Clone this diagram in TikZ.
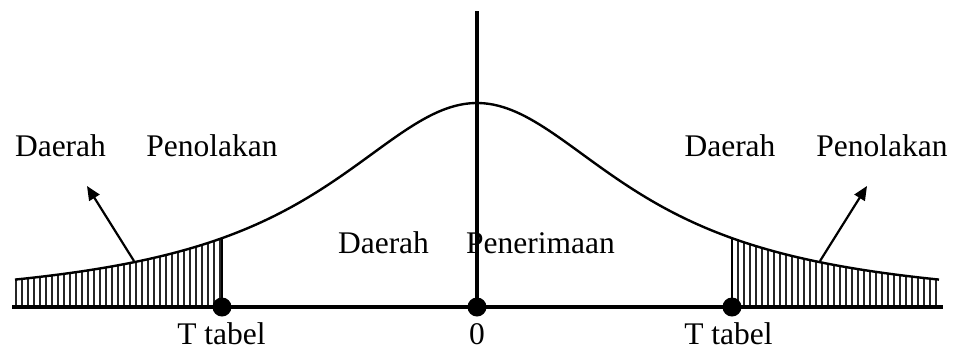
\documentclass[tikz,border=0pt]{standalone}
\usepackage{fontspec}
\setmainfont{Liberation Serif}
\usetikzlibrary{arrows.meta}
\begin{document}
\begin{tikzpicture}[x=1pt,y=-1pt,
  lbl/.style={anchor=base,inner sep=0pt,font=\fontsize{31.5}{36}\selectfont},
  axisline/.style={line width=3.6pt},
  curveline/.style={line width=2.4pt},
  hatchline/.style={line width=1.1pt,black!85},
  bound/.style={line width=2.4pt},
  dotmark/.style={circle,fill=black,minimum size=19pt,inner sep=0pt},
  pointer/.style={line width=2.2pt,-{Triangle[length=14pt,width=12pt]}}]
\useasboundingbox (0,0) rectangle (953,349);
\def\f#1{307-204/(1+((#1-477)/182)^2)}
% hatching
\foreach \x in {16,22,...,220} \draw[hatchline] (\x,307) -- (\x,{\f{\x}});
\foreach \x in {738,744,...,938} \draw[hatchline] (\x,307) -- (\x,{\f{\x}});
% curve
\draw[curveline] plot[domain=15:939,samples=200] (\x,{\f{\x}});
% boundaries
\draw[bound] (222,307) -- (222,{\f{222}});
\draw[bound] (732,307) -- (732,{\f{732}});
% labels
\node[lbl] (dl) at (60.5,156) {Daerah};
\node[lbl] (pl) at (212,156) {Penolakan};
\node[lbl] (dr) at (730,156) {Daerah};
\node[lbl] (pr) at (882,156) {Penolakan};
\node[lbl] (dm) at (383.5,253) {Daerah};
\node[lbl] (pm) at (540.5,253) {Penerimaan};
\node[lbl] (tl) at (221.5,344) {T tabel};
\node[lbl] (zero) at (477,344) {0};
\node[lbl] (tr) at (728.5,344) {T tabel};
% axes
\coordinate (xl) at (12,307);
\coordinate (xr) at (943,307);
\coordinate (yt) at (477,11);
\draw[axisline] (xl) -- (xr);
\draw[axisline] (477,307) -- (yt);
% dots
\node[dotmark] (d1) at (222,307) {};
\node[dotmark] (d0) at (477,307) {};
\node[dotmark] (d2) at (732,307) {};
% arrows
\coordinate (al) at (134,261);
\coordinate (atl) at (87,186);
\coordinate (ar) at (820,261);
\coordinate (atr) at (867,186);
\draw[pointer] (al) -- (atl);
\draw[pointer] (ar) -- (atr);
\end{tikzpicture}
\end{document}
